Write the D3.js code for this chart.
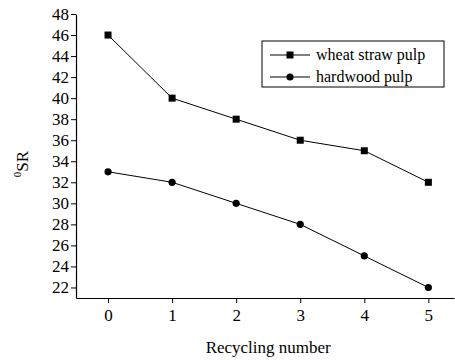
<!DOCTYPE html>
<html>
<head>
<meta charset="utf-8">
<script src="https://cdn.jsdelivr.net/npm/d3@7"></script>
<style>
  body { margin: 0; background: #fff; }
  svg, svg text { font-family: "Liberation Serif", "Times New Roman", serif; }
  svg { display: block; }
</style>
</head>
<body>
<div id="chart"></div>
<script>
// recycling number vs freeness (°SR) for two pulps
const recycling = [0, 1, 2, 3, 4, 5];
const wheatStraw = [46, 40, 38, 36, 35, 32];
const hardwood = [33, 32, 30, 28, 25, 22];
const yTicks = [22, 24, 26, 28, 30, 32, 34, 36, 38, 40, 42, 44, 46, 48];
const seriesNames = ["wheat straw pulp", "hardwood pulp"];

const W = 455, H = 360;
const M = { left: 76, top: 14, right: 1, bottom: 62 };

const svg = d3.select("#chart").append("svg")
  .attr("width", W).attr("height", H);

const x = d3.scaleLinear().domain([-0.5, 5.4]).range([M.left, W - M.right]);
const y = d3.scaleLinear().domain([21, 48]).range([H - M.bottom, M.top]);

// axes
const xAxis = svg.append("g")
  .attr("transform", `translate(0,${H - M.bottom})`)
  .call(d3.axisBottom(x).tickValues(recycling).tickFormat(d3.format("d"))
    .tickSize(5).tickPadding(6).tickSizeOuter(0));
const yAxis = svg.append("g")
  .attr("transform", `translate(${M.left},0)`)
  .call(d3.axisLeft(y).tickValues(yTicks).tickFormat(d3.format("d"))
    .tickSize(5).tickPadding(2).tickSizeOuter(0));

[xAxis, yAxis].forEach((g) => {
  g.attr("font-family", null).attr("font-size", null);
  g.select(".domain").attr("stroke", "#000").attr("stroke-width", 1.2);
  g.selectAll(".tick line").attr("stroke", "#000");
  g.selectAll(".tick text")
    .style("font-family", "'Liberation Serif', serif")
    .style("font-size", "17px")
    .attr("fill", "#000");
});

// axis titles
svg.append("text")
  .attr("x", (x(0) + x(5)) / 2)
  .attr("y", 353)
  .attr("text-anchor", "middle")
  .style("font-size", "17px")
  .text("Recycling number");

const yl = svg.append("text")
  .attr("transform", `translate(28,${(y(21) + y(48)) / 2 + 8}) rotate(-90)`)
  .attr("text-anchor", "middle")
  .style("font-size", "17px");
yl.append("tspan").style("font-size", "11px").attr("dy", -7).text("0");
yl.append("tspan").attr("dy", 7).text("SR");

// lines and markers
const series = [
  { name: seriesNames[0], values: wheatStraw, shape: "square" },
  { name: seriesNames[1], values: hardwood, shape: "circle" },
];

const line = d3.line().x((d) => x(d[0])).y((d) => y(d[1]));

function marker(g, shape) {
  if (shape === "square") {
    g.append("rect").attr("x", -3.5).attr("y", -3.5).attr("width", 7).attr("height", 7).attr("fill", "#000");
  } else {
    g.append("circle").attr("r", 3.6).attr("fill", "#000");
  }
}

series.forEach((s) => {
  const pts = recycling.map((r, i) => [r, s.values[i]]);
  svg.append("path")
    .attr("d", line(pts))
    .attr("fill", "none")
    .attr("stroke", "#000")
    .attr("stroke-width", 1);
  pts.forEach((p) => {
    const g = svg.append("g").attr("transform", `translate(${x(p[0])},${y(p[1])})`);
    marker(g, s.shape);
  });
});

// legend
const legend = svg.append("g").attr("transform", "translate(262,41)");
legend.append("rect")
  .attr("width", 182).attr("height", 46)
  .attr("fill", "#fff").attr("stroke", "#000").attr("stroke-width", 1);
series.forEach((s, i) => {
  const row = legend.append("g").attr("transform", `translate(0,${14 + i * 22})`);
  row.append("line").attr("x1", 8).attr("x2", 48).attr("stroke", "#000").attr("stroke-width", 1);
  const m = row.append("g").attr("transform", "translate(28,0)");
  marker(m, s.shape);
  row.append("text")
    .attr("x", 54).attr("y", 5)
    .style("font-size", "16px")
    .text(s.name);
});
</script>
</body>
</html>
